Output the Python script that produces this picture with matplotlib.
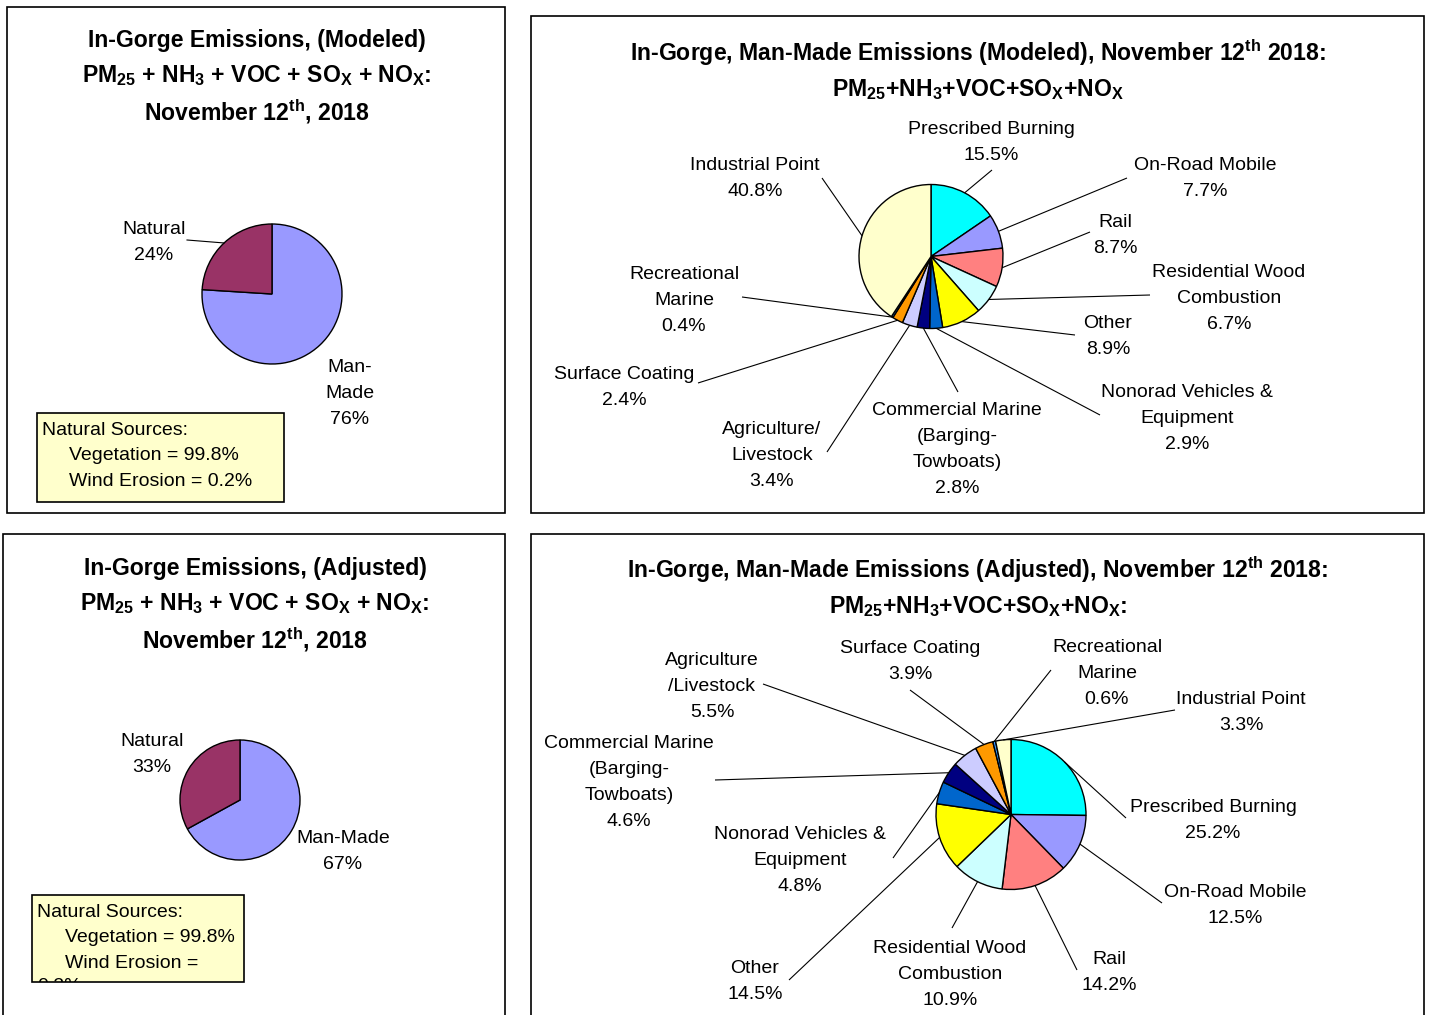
import matplotlib
matplotlib.use("Agg")
import matplotlib.pyplot as plt
from matplotlib.patches import Rectangle
from matplotlib.transforms import Bbox, TransformedBbox
import numpy as np

plt.rcParams["font.family"] = ["Liberation Sans", "DejaVu Sans"]
plt.rcParams["mathtext.default"] = "regular"

W, H = 1429, 1015

# ---- data -------------------------------------------------------------
SHARE_COLORS = ["#9999FF", "#993366"]          # Man-Made, Natural
SHARE_MODELED = [76, 24]
SHARE_ADJUSTED = [67, 33]
SHARE_LABELS_MODELED = [["Man-", "Made"], ["Natural"]]
SHARE_LABELS_ADJUSTED = [["Man-Made"], ["Natural"]]

NATURAL_SOURCES = ["Vegetation", "Wind Erosion"]
NATURAL_PCT = [99.8, 0.2]

SOURCE_COLORS = ["#00FFFF", "#9999FF", "#FF8080", "#CCFFFF", "#FFFF00",
                 "#0066CC", "#000080", "#CCCCFF", "#FF9900", "#3399FF",
                 "#FFFFCC"]
MODELED = [15.5, 7.7, 8.7, 6.7, 8.9, 2.9, 2.8, 3.4, 2.4, 0.4, 40.8]
ADJUSTED = [25.2, 12.5, 14.2, 10.9, 14.5, 4.8, 4.6, 5.5, 3.9, 0.6, 3.3]
LABELS_MODELED = [["Prescribed Burning"], ["On-Road Mobile"], ["Rail"],
                  ["Residential Wood", "Combustion"], ["Other"],
                  ["Nonorad Vehicles &", "Equipment"],
                  ["Commercial Marine", "(Barging-", "Towboats)"],
                  ["Agriculture/", "Livestock"], ["Surface Coating"],
                  ["Recreational", "Marine"], ["Industrial Point"]]
LABELS_ADJUSTED = [["Prescribed Burning"], ["On-Road Mobile"], ["Rail"],
                   ["Residential Wood", "Combustion"], ["Other"],
                   ["Nonorad Vehicles &", "Equipment"],
                   ["Commercial Marine", "(Barging-", "Towboats)"],
                   ["Agriculture", "/Livestock"], ["Surface Coating"],
                   ["Recreational", "Marine"], ["Industrial Point"]]

# ---- layout (pixel positions, y from top) -------------------------------
POS_MODELED = [(991, 127), (1205, 163), (1115, 220), (1229, 270), (1108, 321),
               (1187, 390), (957, 408), (772, 427), (624, 372), (684, 272),
               (755, 163)]
LEAD_MODELED = [(992, 170), (1127, 178), (1090, 232), (1150, 295), (1075, 335),
                (1100, 415), (958, 392), (827, 452), (698, 383), (742, 297),
                (822, 178)]
POS_ADJUSTED = [(1213, 805), (1235, 890), (1109, 957), (950, 946), (755, 966),
                (800, 832), (629, 741), (712, 658), (910, 646), (1107, 645),
                (1241, 697)]
LEAD_ADJUSTED = [(1126, 818), (1162, 903), (1077, 970), (952, 928), (789, 980),
                 (893, 858), (715, 780), (763, 684), (910, 690), (1051, 670),
                 (1175, 710)]

LBL = 14      # label font size
TTL = 16.6    # title font size
DY = 26       # label line step


def Y(y):
    return H - y


def put_lines(ax, x, y0, lines, dy=DY, ha="center", size=LBL, **kw):
    # y0 = visual centre of the first line (pixels from top)
    return [ax.text(x, Y(y0 + i * dy + 7), s, ha=ha, va="baseline",
                    fontsize=size, **kw)
            for i, s in enumerate(lines)]


def draw_pie(ax, values, colors, cx, cy, r, labels, pos, leads):
    wedges, _ = ax.pie(values, colors=colors, startangle=90, counterclock=False,
                       center=(cx, Y(cy)), radius=r,
                       wedgeprops=dict(edgecolor="black", linewidth=1.0))
    for i, w in enumerate(wedges):
        mid = np.deg2rad((w.theta1 + w.theta2) / 2)
        px, py = cx + r * np.cos(mid), Y(cy) + r * np.sin(mid)
        if leads is not None and leads[i] is not None:
            ax.plot([px, leads[i][0]], [py, Y(leads[i][1])], color="black",
                    lw=0.8, solid_capstyle="butt")
        if labels is not None:
            put_lines(ax, pos[i][0], pos[i][1],
                      labels[i] + [f"{values[i]:.1f}%"])
    return wedges


def frame(ax, x0, y0, x1, y1, fc="none", lw=1.2):
    p = Rectangle((x0, Y(y1)), x1 - x0, y1 - y0, facecolor=fc,
                  edgecolor="black", lw=lw, zorder=0.5)
    ax.add_patch(p)
    return p


fig = plt.figure(figsize=(W / 100, H / 100), dpi=100)
ax = fig.add_axes([0, 0, 1, 1])

# panel frames
frame(ax, 7, 7, 505, 513)
frame(ax, 531, 16, 1424, 513)
frame(ax, 3, 534, 505, 1020)
frame(ax, 531, 534, 1424, 1020)

# titles
sub = "PM$_{25}$ + NH$_3$ + VOC + SO$_X$ + NO$_X$:"
for x, ys, lines in [
    (257, (47, 82, 120), ["In-Gorge Emissions, (Modeled)", sub,
                          "November 12$^{th}$, 2018"]),
    (255, (575, 610, 648), ["In-Gorge Emissions, (Adjusted)", sub,
                            "November 12$^{th}$, 2018"]),
    (978, (61, 96), ["In-Gorge, Man-Made Emissions (Modeled), November 12$^{th}$ 2018:",
                     "PM$_{25}$+NH$_3$+VOC+SO$_X$+NO$_X$"]),
    (978, (578, 613), ["In-Gorge, Man-Made Emissions (Adjusted), November 12$^{th}$ 2018:",
                       "PM$_{25}$+NH$_3$+VOC+SO$_X$+NO$_X$:"]),
]:
    for yb, s in zip(ys, lines):
        ax.text(x, Y(yb), s, ha="center", va="baseline", fontsize=TTL,
                fontweight="bold")

# left pies: natural vs man-made
w = draw_pie(ax, SHARE_MODELED, SHARE_COLORS, 272, 294, 70, None, None, None)
mid = np.deg2rad((w[1].theta1 + w[1].theta2) / 2)
ax.plot([272 + 70 * np.cos(mid), 187], [Y(294) + 70 * np.sin(mid), Y(240)],
        color="black", lw=0.8)
put_lines(ax, 154, 227, SHARE_LABELS_MODELED[1] + [f"{SHARE_MODELED[1]}%"])
put_lines(ax, 350, 365, SHARE_LABELS_MODELED[0] + [f"{SHARE_MODELED[0]}%"])

draw_pie(ax, SHARE_ADJUSTED, SHARE_COLORS, 240, 800, 60, None, None, None)
put_lines(ax, 152, 739, SHARE_LABELS_ADJUSTED[1] + [f"{SHARE_ADJUSTED[1]}%"])
put_lines(ax, 343, 836, SHARE_LABELS_ADJUSTED[0] + [f"{SHARE_ADJUSTED[0]}%"])

# natural sources boxes
frame(ax, 37, 413, 284, 502, fc="#FFFFCC", lw=1.2)
put_lines(ax, 42, 428, ["Natural Sources:"], ha="left")
put_lines(ax, 69, 453, [f"{NATURAL_SOURCES[0]} = {NATURAL_PCT[0]}%",
                        f"{NATURAL_SOURCES[1]} = {NATURAL_PCT[1]}%"],
          ha="left")

frame(ax, 32, 895, 244, 982, fc="#FFFFCC", lw=1.2)
put_lines(ax, 37, 910, ["Natural Sources:"], ha="left")
put_lines(ax, 65, 935.5, [f"{NATURAL_SOURCES[0]} = {NATURAL_PCT[0]}%",
                          f"{NATURAL_SOURCES[1]} ="], ha="left", dy=25.5)
# wrapped last line is cut off by the bottom of the box
clip = TransformedBbox(Bbox([[32, Y(982)], [244, Y(895)]]), ax.transData)
for t in put_lines(ax, 37, 984, [f"{NATURAL_PCT[1]}%"], ha="left"):
    t.set_clip_box(clip)
    t.set_clip_on(True)

# right pies: man-made breakdown
draw_pie(ax, MODELED, SOURCE_COLORS, 931, 256.5, 72,
         LABELS_MODELED, POS_MODELED, LEAD_MODELED)
draw_pie(ax, ADJUSTED, SOURCE_COLORS, 1011, 814.5, 75,
         LABELS_ADJUSTED, POS_ADJUSTED, LEAD_ADJUSTED)

ax.set_xlim(0, W)
ax.set_ylim(0, H)
ax.set_aspect("auto")
ax.axis("off")

fig.savefig("out.png", dpi=100)
